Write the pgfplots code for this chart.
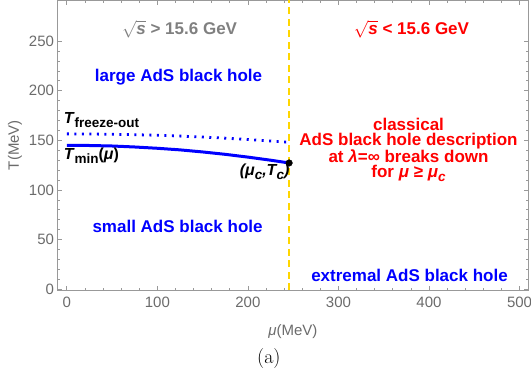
\documentclass[border=0pt]{standalone}
\usepackage{fontspec}
\usepackage{pgfplots}
\pgfplotsset{compat=1.18}
\newfontfamily\arial{Liberation Sans}
\definecolor{framegray}{gray}{0.6}
\definecolor{labgray}{gray}{0.42}
\definecolor{titgray}{gray}{0.5}
\definecolor{myyellow}{rgb}{1,0.84,0}
\newcommand{\ann}{\arial\bfseries\fontsize{17}{17}\selectfont}
\newcommand{\annR}{\arial\bfseries\fontsize{17}{15}\selectfont}
\newcommand{\annT}{\arial\bfseries\fontsize{16}{16}\selectfont}
\newcommand{\sub}[1]{\raisebox{-3.5pt}{\fontsize{13.5}{13.5}\selectfont #1}}
\begin{document}
\begin{tikzpicture}
\begin{axis}[
 scale only axis, width=470.8pt, height=290pt,
 xmin=-10.3, xmax=509.7, ymin=-0.8, ymax=291.4,
 enlargelimits=false,
 xtick={0,100,...,500}, ytick={0,50,...,250},
 minor x tick num=4, minor y tick num=4,
 tick align=inside,
 major tick length=4.5pt, minor tick length=2.5pt,
 axis line style={framegray, line width=0.9pt},
 tick style={framegray, line width=0.7pt},
 ticklabel style={font=\arial\fontsize{15}{15}\selectfont, text=labgray},
 /pgf/number format/assume math mode=true,
 xticklabel style={yshift=-3pt},
 xlabel={\textit{μ}(MeV)},
 xlabel style={font=\arial\fontsize{15}{15}\selectfont, text=labgray, at={(axis description cs:0.5,-0.1552)}, anchor=base},
 ylabel={T(MeV)},
 ylabel style={font=\arial\fontsize{15}{15}\selectfont, text=labgray, at={(axis description cs:-0.0903,0.5)}, anchor=center},
 clip=false,
]
\addplot[myyellow, line width=1.5pt, dash pattern=on 7pt off 4.5pt] coordinates {(245.5,-0.8) (245.5,291.4)};
\addplot[blue, line width=2.8pt, dash pattern=on 2pt off 5.5pt] coordinates {
 (0,156.5) (25,156.4) (50,156.1) (75,155.7) (100,155.1) (125,154.3) (150,153.3) (175,152.2) (200,150.8) (225,149.3) (245.5,148.0)};
\addplot[blue, line width=3pt] coordinates {
 (0,145.0) (25,144.8) (50,144.3) (75,143.3) (100,142.0) (125,140.4) (150,138.3) (175,135.9) (200,133.1) (225,130.0) (245.5,127.2)};
\addplot[only marks, mark=*, mark size=3.3pt, black] coordinates {(245.5,127.2)};

\node[anchor=base, inner sep=0pt, text=titgray, font=\ann] at (axis cs:124.5,256.2) {$\sqrt{\textit{s}}$\ > 15.6 GeV};
\node[anchor=base, inner sep=0pt, text=red, font=\ann] at (axis cs:380.7,256.2) {$\sqrt{\textit{s}}$\ < 15.6 GeV};
\node[anchor=base, inner sep=0pt, text=blue, font=\ann] at (axis cs:123.4,209.1) {large AdS black hole};
\node[anchor=base west, inner sep=0pt, text=black, font=\annT] at (axis cs:-3.6,166.5) {\textit{T}\sub{freeze-out}};
\node[anchor=base west, inner sep=0pt, text=black, font=\annT] at (axis cs:-3.6,130.4) {\textit{T}\sub{min}(\textit{μ})};
\node[anchor=base east, inner sep=0pt, text=black, font=\annT] at (axis cs:246,114.1) {\textit{(μ\sub{c},T\sub{c})}};
\node[anchor=north, inner sep=0pt, text=red, font=\annR, align=center] at (axis cs:377.4,172.7)
 {classical\\AdS black hole description\\at \textit{λ}=∞ breaks down\\for \textit{μ} ≥ \textit{μ\sub{c}}};
\node[anchor=base, inner sep=0pt, text=blue, font=\ann] at (axis cs:122.3,57.4) {small AdS black hole};
\node[anchor=base, inner sep=0pt, text=blue, font=\ann] at (axis cs:378.5,7.6) {extremal AdS black hole};
\node[anchor=base, font=\fontsize{20}{20}\selectfont] at (axis description cs:0.449,-0.255) {(a)};
\coordinate (SW) at (rel axis cs:0,0);
\coordinate (NE) at (rel axis cs:1,1);
\end{axis}
\pgfresetboundingbox
\path[use as bounding box] ([shift={(-57.5pt,-89pt)}]SW) rectangle ([shift={(2.7pt,0pt)}]NE);
\end{tikzpicture}
\end{document}
